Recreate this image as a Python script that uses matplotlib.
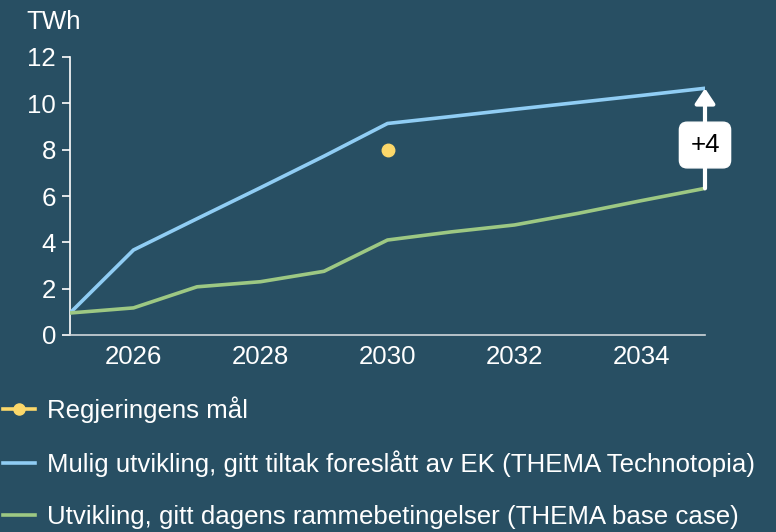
import matplotlib
matplotlib.use("Agg")
import matplotlib.pyplot as plt
from matplotlib.lines import Line2D

plt.rcParams['font.family'] = ['Liberation Sans', 'DejaVu Sans']

years = [2025, 2026, 2027, 2028, 2029, 2030, 2031, 2032, 2033, 2034, 2035]
technotopia = [0.95, 3.67, 5.02, 6.36, 7.72, 9.13, 9.43, 9.74, 10.04, 10.34, 10.65]
base_case = [0.95, 1.17, 2.08, 2.30, 2.75, 4.10, 4.45, 4.75, 5.25, 5.80, 6.33]
goal_year = [2030]
goal_value = [8.0]
diff_label = "+4"
yticks = [0, 2, 4, 6, 8, 10, 12]
xticks = [2026, 2028, 2030, 2032, 2034]
labels = ["Regjeringens mål",
          "Mulig utvikling, gitt tiltak foreslått av EK (THEMA Technotopia)",
          "Utvikling, gitt dagens rammebetingelser (THEMA base case)"]

BG = '#284f63'
BLUE = '#90cdf4'
GREEN = '#9dc883'
YELLOW = '#fcd86a'
FS = 18.6

fig = plt.figure(figsize=(7.76, 5.32), dpi=100, facecolor=BG)
ax = fig.add_axes([70/776, 1-335/532, (705-70)/776, (335-57)/532])
ax.set_facecolor(BG)

ax.plot(years, technotopia, color=BLUE, lw=2.6, solid_capstyle='round', zorder=3)
ax.plot(years, base_case, color=GREEN, lw=2.6, solid_capstyle='round', zorder=3)
ax.plot(goal_year, goal_value, 'o', color=YELLOW, ms=9, zorder=4)

ax.set_xlim(2025, 2035)
ax.set_ylim(0, 12)
ax.set_yticks(yticks)
ax.set_xticks(xticks)
ax.tick_params(axis='y', colors='white', labelsize=FS, length=6, width=1.2, pad=4, labelcolor='white')
ax.tick_params(axis='x', colors='white', labelsize=FS, length=0, pad=7, labelcolor='white')
for s in ['top', 'right']:
    ax.spines[s].set_visible(False)
ax.spines['left'].set_color('white')
ax.spines['left'].set_linewidth(1.2)
ax.spines['bottom'].set_color('#d0d6da')
ax.spines['bottom'].set_linewidth(1.2)

fig.text(26/776, 1-22/532, "TWh", color='white', fontsize=FS, va='center', ha='left')

# difference arrow
x_end = years[-1]
ax.annotate('', xy=(x_end, technotopia[-1]), xytext=(x_end, base_case[-1]),
            arrowprops=dict(arrowstyle='-|>,head_length=0.9,head_width=0.6',
                            color='white', lw=3, shrinkA=0, shrinkB=0),
            annotation_clip=False, zorder=5)
ax.text(x_end, 8.2, diff_label, ha='center', va='center', fontsize=FS, color='black',
        bbox=dict(boxstyle='round,pad=0.42,rounding_size=0.3', fc='white', ec='white'),
        clip_on=False, zorder=6)

handles = [
    Line2D([], [], color=YELLOW, lw=2.6, marker='o', ms=8),
    Line2D([], [], color=BLUE, lw=2.6),
    Line2D([], [], color=GREEN, lw=2.6),
]
leg = fig.legend(handles, labels, loc='upper left', bbox_to_anchor=(3/776, 1-396/532),
                 frameon=False, fontsize=FS, labelcolor='white', handlelength=1.24,
                 handletextpad=0.47, labelspacing=1.07, borderaxespad=0, borderpad=0)

fig.savefig('out.png', dpi=100, facecolor=BG)
